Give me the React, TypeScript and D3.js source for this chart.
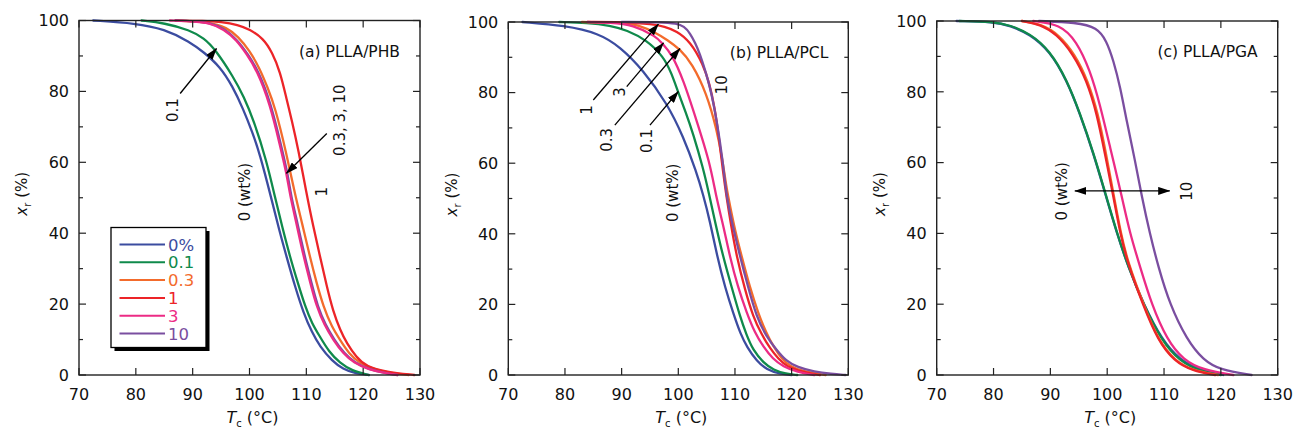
import React from 'react';
import * as d3 from 'd3';

// ---------- axes ----------
const xTicks = [70, 80, 90, 100, 110, 120, 130];
const yTicks = [0, 20, 40, 60, 80, 100];
const yMinorTicks = [10, 30, 50, 70, 90];

// ---------- series ----------
const seriesLabels = ['0%', '0.1', '0.3', '1', '3', '10'];
const seriesColors = ['#3b4ca0', '#0f8a4b', '#f36b2c', '#ec2428', '#ec2b85', '#7a4ea0'];

// (a) PLLA/PHB   [Tc (°C), xr (%)]
const phb0 = [[72.5,100],[80,99.2],[85,97.6],[89.5,94],[92,91],[94.8,87],[97,81.5],[98.9,75],[100.5,68.5],[101.8,62.5],[103.9,49.5],[105.2,41],[106.5,33.5],[108,25],[109.5,17.5],[111,12],[112.4,8],[114.5,4],[116.5,1.6],[118.5,0.5],[121,0]];
const phb01 = [[81,100],[85,99.3],[89.5,97.3],[92,95],[93.9,92],[97.2,84],[99,78.5],[100.7,72],[103,60.5],[104.5,50],[105.8,41.5],[107.1,33.5],[108.5,26],[109.8,19.3],[111,14.5],[112.4,10.8],[114,6.5],[115.9,3.4],[118,1.2],[121,0]];
const phb03 = [[87,100],[93,99.6],[96,98],[98,95.5],[100,91.5],[101.8,86.5],[103.2,81],[104.5,75.6],[106.5,62.5],[108,51],[109.3,42.5],[110.6,33.5],[111.8,26],[113,19.3],[114.5,13.5],[115.9,10],[117.5,6],[119.4,3.3],[122,1.5],[125,0.5],[128,0]];
const phb1 = [[87,100],[92,99.9],[95,99.6],[98,98.8],[100,97.5],[102.4,95],[104,91],[105.4,85.5],[106.5,78],[107.5,71.5],[108.6,63.5],[110,51.5],[111.2,42],[112.4,33.5],[113.6,25],[114.7,18],[116,12.5],[117.1,9],[118.8,5],[120.6,2.3],[124,0.9],[129,0]];
const phb3 = [[86,100],[90,99.8],[93,99.3],[95.5,97.5],[97.7,94.5],[99.5,90.5],[101.3,86],[103.6,76.5],[105.4,64.5],[106.5,57],[107.1,51],[108.3,42.5],[109.5,33.5],[110.7,26],[111.8,19.3],[113.2,14],[114.7,10],[116.5,6],[118.3,3.5],[121,1.5],[124,0.5],[126,0]];
const phb10 = [[87,100],[90,99.8],[93,99.4],[95.5,97.8],[97.9,94.5],[99.7,90.5],[101.5,86],[103.8,76.5],[105.6,64.5],[106.7,57],[107.3,50.5],[108.5,42.5],[109.7,33.5],[110.9,26],[112,19.3],[113.4,14],[114.9,10],[116.7,6],[118.5,3.5],[121,1.6],[124,0.5],[126,0]];

// (b) PLLA/PCL
const pcl0 = [[72.5,100],[80,99],[86,96.8],[89.7,93],[93.8,86.4],[98,77],[100.9,67.5],[103.2,57.5],[104.4,51],[105.6,43.5],[106.8,34],[108.3,24.5],[109.7,17.5],[111,11.5],[112.1,8],[113.8,4],[115.6,1.5],[118,0.3],[120,0]];
const pcl01 = [[79,100],[84,99.8],[88,99],[90.9,97.7],[94.4,94.9],[97.4,90.2],[98.8,85.5],[100,80],[101.3,74.5],[102.6,68.5],[104.4,58.5],[105.4,51.5],[106.4,44],[107.9,33.5],[109.4,25],[110.9,16.5],[112,11.5],[113.2,7],[115,3.5],[116.8,1.4],[119,0.3],[121,0]];
const pcl03 = [[83,100],[90,99.8],[93,99.2],[96.2,96.8],[98,95],[100.3,92.3],[102.4,88.3],[105,79.8],[106.8,69.4],[107.8,61],[108.5,53],[109,49],[110,41],[111.2,33.5],[112.6,25],[114.1,17.5],[115.5,12],[116.8,8],[118.3,4.5],[119.7,2.5],[122,1],[126,0]];
const pcl1 = [[84,100],[90,100],[95.6,99.4],[97.5,98.7],[99.7,97.5],[102.1,94.5],[104.4,88],[105.5,82.5],[106.4,76],[107.2,67],[107.9,57.5],[108.5,50.5],[109.3,42.5],[110.3,33.5],[111.8,24],[113.2,16.5],[114.7,11.5],[116.2,7.5],[117.7,4.5],[119.1,2.4],[122,0.8],[125,0]];
const pcl3 = [[84,100],[88,99.8],[92,99.2],[96.2,95.8],[97.1,94],[98.8,91.1],[100.9,83.6],[103.2,72.2],[105.6,60],[106.6,51],[108,42],[109.1,33.5],[110.5,25],[112.1,17.5],[113.5,12],[115,8],[116.7,4.5],[118.5,2.4],[121,0.8],[124,0]];
const pcl10 = [[90,100],[97,100],[99.7,99.6],[101,98.8],[102.1,96.8],[103,94],[103.8,91],[104.7,86.5],[105.6,81.7],[106.8,72.2],[107.9,60],[108.4,52],[109.2,45],[110.9,33.5],[112.3,25],[113.8,16.5],[115.5,11],[117.4,7],[119,4],[121,2.2],[124,0.9],[127,0.3],[129.5,0]];

// (c) PLLA/PGA
const pga0 = [[73.5,100],[80,99.8],[82.9,98.7],[86.4,96.3],[89.9,91.5],[92.9,83.2],[95.2,73.8],[97.6,62.5],[99.6,51.5],[101.7,40],[103.7,30.5],[106.4,20],[109.6,10],[112.8,4.2],[116.3,1.4],[120.4,0]];
const pga01 = [[74,100],[80,99.8],[82.9,98.8],[86.4,96.5],[89.9,91.7],[92.9,83.4],[95.2,74],[97.6,62.7],[99.6,51.8],[101.7,40.2],[103.7,30.6],[106.4,19.8],[109.6,9.6],[112.8,3.8],[116.3,1.1],[120,0]];
const pga03 = [[85,100],[88.5,99.1],[91.4,96.3],[94.3,90.7],[96.6,83.2],[98.4,73.8],[99.8,62.5],[101.2,50.3],[102.4,40],[103.6,32],[106.4,19.8],[109,9.8],[111.9,4],[115,1.3],[119.5,0]];
const pga1 = [[85,100],[88.2,99.1],[91.1,96.3],[94,90.7],[96.4,83.2],[98.2,73.8],[99.6,62.5],[101.1,50.3],[102.3,40],[103.5,32],[106.3,19.8],[108.9,9.8],[111.8,3.9],[115,1.2],[119,0]];
const pga3 = [[87,100],[91.7,99.1],[94.6,94.4],[97,86],[98.7,76.6],[100.5,64.4],[102.6,50.3],[104,40],[105.8,30.5],[107.8,20],[110.5,10],[113.4,4.2],[116.9,1.4],[122.2,0]];
const pga10 = [[88,100],[94.6,99.6],[98.2,98.2],[99.9,94.4],[101.1,88.8],[102.3,81.3],[103.4,71.9],[104.9,60.6],[106.1,50.3],[107.5,40],[109,30.5],[111,20],[114,10],[116.9,4.2],[119.9,1.4],[125.4,0]];

const phbSeries = [phb0, phb01, phb03, phb1, phb3, phb10];
const pclSeries = [pcl0, pcl01, pcl03, pcl1, pcl3, pcl10];
const pgaSeries = [pga0, pga01, pga03, pga1, pga3, pga10];
const panelTitles = ['(a) PLLA/PHB', '(b) PLLA/PCL', '(c) PLLA/PGA'];

const FONT = '"DejaVu Sans", sans-serif';

type Pt = number[];

interface PanelBox { left: number; right: number; top: number; bottom: number; }

const boxes: PanelBox[] = [
  { left: 79, right: 420, top: 20.5, bottom: 375 },
  { left: 508.3, right: 848.3, top: 22, bottom: 375 },
  { left: 936.7, right: 1277.7, top: 21, bottom: 375 },
];

function RotText({ x, y, children, size = 15 }: { x: number; y: number; children: React.ReactNode; size?: number }) {
  return (
    <text transform={`translate(${x},${y}) rotate(-90)`} textAnchor="middle" dy="0.35em"
      fontFamily={FONT} fontSize={size} fill="#111">{children}</text>
  );
}

function Panel({ idx, series }: { idx: number; series: Pt[][] }) {
  const b = boxes[idx];
  const x = d3.scaleLinear().domain([70, 130]).range([b.left, b.right]);
  const y = d3.scaleLinear().domain([0, 100]).range([b.bottom, b.top]);
  const line = d3.line<Pt>().x(d => x(d[0])).y(d => y(d[1])).curve(d3.curveBasis);
  const drawOrder = [0, 1, 2, 3, 5, 4];
  const cx = (b.left + b.right) / 2;
  const cy = (b.top + b.bottom) / 2;
  const arrow = (t1: number, v1: number, t2: number, v2: number, key: string, both = false) => (
    <line key={key} x1={x(t1)} y1={y(v1)} x2={x(t2)} y2={y(v2)} stroke="#000" strokeWidth={1.3}
      markerEnd="url(#ah)" markerStart={both ? 'url(#ah)' : undefined} />
  );
  return (
    <g>
      {/* curves */}
      <g fill="none" strokeWidth={2.3} strokeLinejoin="round" strokeLinecap="round">
        {drawOrder.map(i => (
          <path key={i} d={line(series[i] as Pt[]) || ''} stroke={seriesColors[i]} />
        ))}
      </g>
      {/* frame */}
      <rect x={b.left} y={b.top} width={b.right - b.left} height={b.bottom - b.top} fill="none" stroke="#222" strokeWidth={1.4} />
      {/* x ticks */}
      {xTicks.map(t => (
        <g key={'x' + t}>
          <line x1={x(t)} x2={x(t)} y1={b.bottom} y2={b.bottom - 7} stroke="#222" strokeWidth={1.2} />
          <line x1={x(t)} x2={x(t)} y1={b.top} y2={b.top + 7} stroke="#222" strokeWidth={1.2} />
          <text x={x(t)} y={b.bottom + 25} textAnchor="middle" fontFamily={FONT} fontSize={16} fill="#111">{t}</text>
        </g>
      ))}
      {yTicks.map(t => (
        <g key={'y' + t}>
          <line x1={b.left} x2={b.left + 7} y1={y(t)} y2={y(t)} stroke="#222" strokeWidth={1.2} />
          <line x1={b.right} x2={b.right - 7} y1={y(t)} y2={y(t)} stroke="#222" strokeWidth={1.2} />
          <text x={b.left - 10} y={y(t)} dy="0.36em" textAnchor="end" fontFamily={FONT} fontSize={16} fill="#111">{t}</text>
        </g>
      ))}
      {yMinorTicks.map(t => (
        <g key={'ym' + t}>
          <line x1={b.left} x2={b.left + 4} y1={y(t)} y2={y(t)} stroke="#222" strokeWidth={1.2} />
          <line x1={b.right} x2={b.right - 4} y1={y(t)} y2={y(t)} stroke="#222" strokeWidth={1.2} />
        </g>
      ))}
      {/* axis titles */}
      <text transform={`translate(${b.left - 57},${cy - 4}) rotate(-90)`} textAnchor="middle" dy="0.35em"
        fontFamily={FONT} fontSize={15} fill="#111">
        <tspan fontStyle="italic">x</tspan><tspan fontSize={10} dy="4">r</tspan><tspan dy="-4"> (%)</tspan>
      </text>
      <text x={cx + 3} y={b.bottom + 48} textAnchor="middle" fontFamily={FONT} fontSize={16} fill="#111">
        <tspan fontStyle="italic">T</tspan><tspan fontSize={10} dy="4">c</tspan><tspan dy="-4"> (°C)</tspan>
      </text>
      {/* panel title */}
      <text x={b.right - 20} y={b.top + 36} textAnchor="end" fontFamily={FONT} fontSize={15.5} fill="#111">{panelTitles[idx]}</text>

      {idx === 0 && (
        <g>
          {arrow(87.8, 79.4, 94.2, 92.1, 'a1')}
          <RotText x={x(86.5)} y={y(74.7)}>0.1</RotText>
          {arrow(113.6, 68.1, 106.5, 56.9, 'a2')}
          <RotText x={x(115.9)} y={y(71.9)}>0.3, 3, 10</RotText>
          <RotText x={x(112.7)} y={y(51.7)}>1</RotText>
          <RotText x={x(99.2)} y={y(51.6)}>0 (wt%)</RotText>
        </g>
      )}
      {idx === 1 && (
        <g>
          {arrow(85, 77.9, 96.5, 99.4, 'b1')}
          <RotText x={x(83.8)} y={y(75.1)}>1</RotText>
          {arrow(90.9, 81.7, 97.4, 94.1, 'b2')}
          <RotText x={x(89.7)} y={y(80.2)}>3</RotText>
          {arrow(88.8, 70.8, 100.3, 92.5, 'b3')}
          <RotText x={x(87.4)} y={y(66.6)}>0.3</RotText>
          {arrow(95, 70.8, 100, 80.3, 'b4')}
          <RotText x={x(94.4)} y={y(66.3)}>0.1</RotText>
          <RotText x={x(107.7)} y={y(82.2)}>10</RotText>
          <RotText x={x(99.1)} y={y(51.6)}>0 (wt%)</RotText>
        </g>
      )}
      {idx === 2 && (
        <g>
          {arrow(94.3, 52, 111, 52, 'c1', true)}
          <RotText x={x(92)} y={y(51.9)}>0 (wt%)</RotText>
          <RotText x={x(114)} y={y(51.9)}>10</RotText>
        </g>
      )}
    </g>
  );
}

function Legend() {
  const x0 = 111, y0 = 227.5, w = 95, h = 120;
  const rowY = d3.scaleLinear().domain([0, 5]).range([244.5, 333.5]);
  return (
    <g>
      <rect x={x0 + 3.5} y={y0 + 3.5} width={w} height={h} fill="#000" />
      <rect x={x0} y={y0} width={w} height={h} fill="#fff" stroke="#000" strokeWidth={1.3} />
      {seriesLabels.map((lab, i) => (
        <g key={lab}>
          <line x1={119.5} x2={165} y1={rowY(i)} y2={rowY(i)} stroke={seriesColors[i]} strokeWidth={2} />
          <text x={168} y={rowY(i)} dy="0.37em" fontFamily={FONT} fontSize={16.5} fill={seriesColors[i]}>{lab}</text>
        </g>
      ))}
    </g>
  );
}

export default function App() {
  return (
    <svg width={1294} height={433} viewBox="0 0 1294 433"
      style={{ position: 'absolute', left: 0, top: 0, background: '#fff' }}>
      <defs>
        <marker id="ah" viewBox="0 0 12 8" refX="11.5" refY="4" markerWidth="12" markerHeight="8"
          markerUnits="userSpaceOnUse" orient="auto-start-reverse">
          <path d="M0,0 L12,4 L0,8 z" fill="#000" />
        </marker>
      </defs>
      <rect x={0} y={0} width={1294} height={433} fill="#fff" />
      <Panel idx={0} series={phbSeries} />
      <Panel idx={1} series={pclSeries} />
      <Panel idx={2} series={pgaSeries} />
      <Legend />
    </svg>
  );
}
